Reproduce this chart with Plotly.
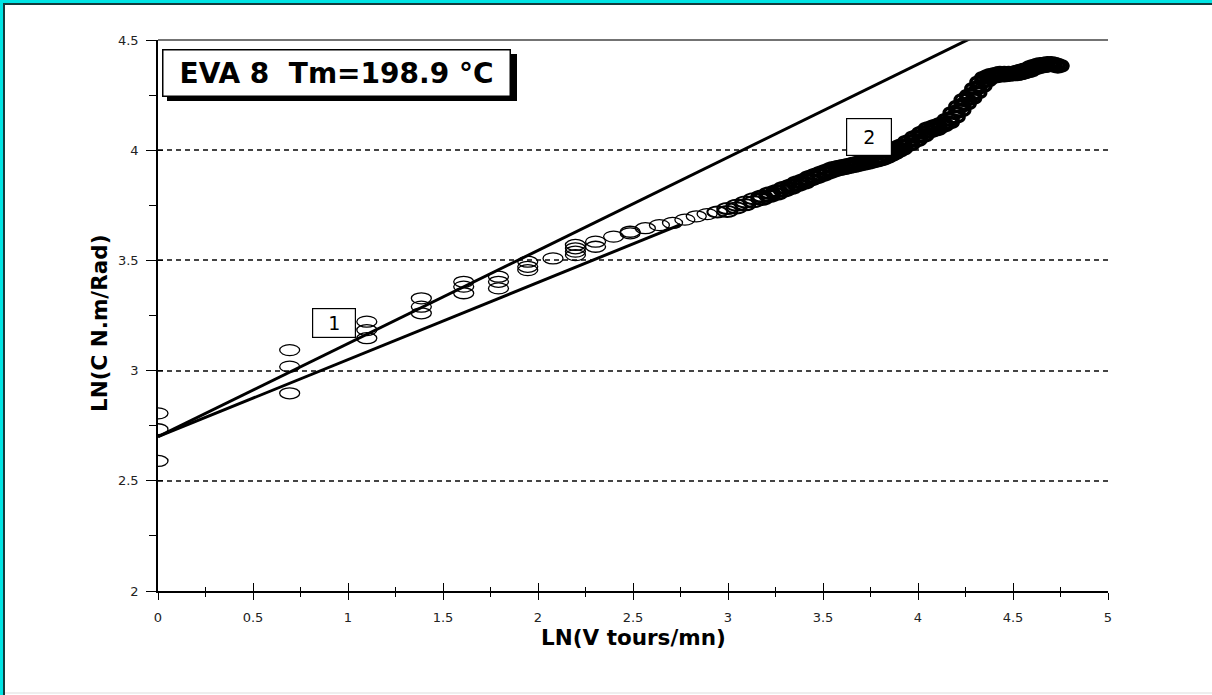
import plotly.graph_objects as go

# ---------------- data ----------------
x_ln_v = [
    0.0, 0.0, 0.0,
    0.693, 0.693, 0.693,
    1.099, 1.099, 1.099,
    1.386, 1.386, 1.386,
    1.609, 1.609, 1.609,
    1.792, 1.792, 1.792,
    1.946, 1.946, 1.946,
    2.079,
    2.197, 2.197, 2.197, 2.197,
    2.303, 2.303,
    2.398,
    2.485, 2.485,
    2.565, 2.639, 2.708, 2.773, 2.833, 2.890, 2.944,
    2.996, 2.996, 3.045, 3.045, 3.091, 3.091, 3.135, 3.135, 3.178, 3.178,
    3.219, 3.219, 3.258, 3.258, 3.296, 3.296, 3.332, 3.332, 3.367, 3.367,
    3.401, 3.401, 3.434, 3.434, 3.466, 3.466, 3.497, 3.497, 3.526, 3.526,
    3.555, 3.555, 3.584, 3.584, 3.611, 3.611, 3.638, 3.638, 3.664, 3.664,
    3.689, 3.689, 3.714, 3.714, 3.738, 3.738, 3.761, 3.761, 3.784, 3.784,
    3.807, 3.807, 3.829, 3.829, 3.850, 3.850, 3.871, 3.871, 3.892, 3.892,
    3.912, 3.912, 3.951, 3.951, 3.989, 3.989, 4.025, 4.025, 4.060, 4.060,
    4.094, 4.094, 4.127, 4.127, 4.159, 4.159, 4.190, 4.190, 4.220, 4.220,
    4.248, 4.248, 4.277, 4.277, 4.304, 4.304, 4.331, 4.331, 4.357, 4.357,
    4.382, 4.382, 4.407, 4.407, 4.431, 4.431, 4.454, 4.454, 4.477, 4.477,
    4.500, 4.500, 4.522, 4.522, 4.543, 4.543, 4.564, 4.564, 4.585, 4.585,
    4.605, 4.605, 4.625, 4.625, 4.644, 4.644, 4.663, 4.663, 4.682, 4.682,
    4.700, 4.700, 4.718, 4.718, 4.736, 4.736,
]
y_ln_c = [
    2.806, 2.734, 2.590,
    3.093, 3.018, 2.897,
    3.222, 3.184, 3.147,
    3.328, 3.290, 3.260,
    3.403, 3.381, 3.351,
    3.426, 3.403, 3.373,
    3.494, 3.471, 3.456,
    3.509,
    3.570, 3.555, 3.540, 3.524,
    3.585, 3.562,
    3.608,
    3.630, 3.623,
    3.646, 3.660, 3.670, 3.685, 3.700, 3.710, 3.720,
    3.735, 3.722, 3.750, 3.738, 3.765, 3.752, 3.780, 3.766, 3.790, 3.778,
    3.805, 3.792, 3.815, 3.802, 3.830, 3.816, 3.840, 3.828, 3.855, 3.842,
    3.865, 3.852, 3.880, 3.866, 3.890, 3.877, 3.900, 3.887, 3.910, 3.897,
    3.920, 3.906, 3.925, 3.913, 3.930, 3.918, 3.935, 3.923, 3.940, 3.928,
    3.945, 3.933, 3.950, 3.938, 3.955, 3.943, 3.960, 3.948, 3.965, 3.953,
    3.970, 3.958, 3.980, 3.966, 3.990, 3.975, 4.000, 3.985, 4.010, 3.995,
    4.020, 4.005, 4.040, 4.025, 4.060, 4.045, 4.080, 4.065, 4.100, 4.085,
    4.110, 4.095, 4.120, 4.110, 4.140, 4.125, 4.170, 4.150, 4.200, 4.180,
    4.230, 4.210, 4.250, 4.235, 4.280, 4.260, 4.310, 4.290, 4.330, 4.315,
    4.340, 4.330, 4.345, 4.335, 4.350, 4.340, 4.350, 4.340, 4.350, 4.342,
    4.350, 4.345, 4.355, 4.345, 4.360, 4.350, 4.365, 4.355, 4.370, 4.360,
    4.380, 4.370, 4.385, 4.375, 4.390, 4.380, 4.390, 4.382, 4.395, 4.385,
    4.395, 4.388, 4.390, 4.385, 4.385, 4.380,
]

fit1_x = [0.0, 4.30]
fit1_y = [2.70, 4.517]
fit2_x = [0.0, 2.75]
fit2_y = [2.70, 3.6625]

label1_pos = (0.926, 3.218)
label2_pos = (3.742, 4.058)

title_text = "EVA 8&nbsp; Tm=198.9 °C"
x_title = "LN(V tours/mn)"
y_title = "LN(C N.m/Rad)"

# ---------------- layout geometry ----------------
W, H = 1212, 695
L, R, T, B = 158, 104, 40, 104
PW, PH = W - L - R, H - T - B


def px(xp):
    return (xp - L) / PW


def py(yp):
    return (H - B - yp) / PH


fig = go.Figure()

# fitted lines
for fx, fy in ((fit1_x, fit1_y), (fit2_x, fit2_y)):
    fig.add_trace(go.Scatter(x=fx, y=fy, mode="lines",
                             line=dict(color="black", width=3),
                             hoverinfo="skip", showlegend=False))

# dummy trace for overlay axes (inner half of tick marks)
fig.add_trace(go.Scatter(x=[None], y=[None], xaxis="x2", yaxis="y2",
                         hoverinfo="skip", showlegend=False))

# measured points: open horizontal ellipses
for xv, yv in zip(x_ln_v, y_ln_c):
    if xv < 2.9:
        lw = 1.3
    elif xv < 3.15:
        lw = 2.0
    elif xv < 3.9:
        lw = 2.8
    else:
        lw = 3.4
    fig.add_shape(type="circle", xref="x", yref="y",
                  xsizemode="pixel", ysizemode="pixel",
                  xanchor=xv, yanchor=yv,
                  x0=-10, x1=10, y0=-5.5, y1=5.5,
                  line=dict(color="black", width=lw),
                  fillcolor="rgba(0,0,0,0)", layer="above")

# top frame line of plot
fig.add_shape(type="line", xref="paper", yref="paper", x0=0, x1=1, y0=1, y1=1,
              line=dict(color="#444444", width=1.5), layer="above")

# page border (cyan + dark)
fig.add_shape(type="rect", xref="paper", yref="paper",
              x0=px(0), x1=px(3), y0=py(H), y1=py(0),
              line=dict(width=0), fillcolor="#00e5e5", layer="above")
fig.add_shape(type="rect", xref="paper", yref="paper",
              x0=px(0), x1=px(W), y0=py(3), y1=py(0),
              line=dict(width=0), fillcolor="#00e5e5", layer="above")
fig.add_shape(type="rect", xref="paper", yref="paper",
              x0=px(3), x1=px(5), y0=py(H), y1=py(3),
              line=dict(width=0), fillcolor="#143c3c", layer="above")
fig.add_shape(type="rect", xref="paper", yref="paper",
              x0=px(3), x1=px(W), y0=py(5), y1=py(3),
              line=dict(width=0), fillcolor="#143c3c", layer="above")
fig.add_shape(type="line", xref="paper", yref="paper",
              x0=px(5), x1=px(W), y0=py(693), y1=py(693),
              line=dict(color="#dddddd", width=1), layer="above")

# title box shadow
fig.add_shape(type="rect", xref="paper", yref="paper",
              x0=px(167), x1=px(517), y0=py(101), y1=py(54),
              line=dict(width=0), fillcolor="black", layer="above")

annotations = [
    dict(text="<b>" + title_text + "</b>", xref="paper", yref="paper",
         x=px(162), y=py(49), xanchor="left", yanchor="top",
         showarrow=False, width=340, height=39, borderpad=3,
         bordercolor="black", borderwidth=1.5, bgcolor="white",
         align="center", valign="middle",
         font=dict(family="DejaVu Sans", size=28, color="black")),
    dict(text="1", xref="x", yref="y", x=label1_pos[0], y=label1_pos[1],
         showarrow=False, width=42, height=28, borderpad=0,
         bordercolor="black", borderwidth=1.2, bgcolor="white",
         font=dict(family="DejaVu Sans", size=19, color="black")),
    dict(text="2", xref="x", yref="y", x=label2_pos[0], y=label2_pos[1],
         showarrow=False, width=44, height=36, borderpad=0,
         bordercolor="black", borderwidth=1.2, bgcolor="white",
         font=dict(family="DejaVu Sans", size=19, color="black")),
    dict(text="<b>" + x_title + "</b>", xref="paper", yref="paper",
         x=px(633), y=py(637), xanchor="center", yanchor="middle",
         showarrow=False,
         font=dict(family="DejaVu Sans", size=21.5, color="black")),
    dict(text="<b>" + y_title + "</b>", xref="paper", yref="paper",
         x=px(99), y=py(324), xanchor="center", yanchor="middle",
         showarrow=False, textangle=-90,
         font=dict(family="DejaVu Sans", size=21.5, color="black")),
]

tickfont = dict(family="DejaVu Sans", size=13, color="#222222")

fig.update_layout(
    width=W, height=H,
    margin=dict(l=L, r=R, t=T, b=B, pad=0),
    paper_bgcolor="white", plot_bgcolor="white",
    showlegend=False,
    annotations=annotations,
    xaxis=dict(range=[0, 5], dtick=0.5, tick0=0, showgrid=False, zeroline=False,
               showline=True, linecolor="black", linewidth=1.5,
               ticks="outside", ticklen=7, tickwidth=1.2, tickcolor="black",
               minor=dict(ticks="outside", ticklen=4, dtick=0.25, tickcolor="black",
                          tickwidth=1.2, showgrid=False),
               tickfont=tickfont, ticklabelstandoff=7, fixedrange=True),
    yaxis=dict(range=[2, 4.5], dtick=0.5, tick0=2, showgrid=True,
               gridcolor="#444444", gridwidth=1.5, griddash="5px,4px",
               zeroline=False,
               showline=True, linecolor="black", linewidth=1.5,
               ticks="outside", ticklen=10, tickwidth=1.2, tickcolor="black",
               minor=dict(ticks="outside", ticklen=7, dtick=0.25, tickcolor="black",
                          tickwidth=1.2, showgrid=False),
               tickfont=tickfont, ticklabelstandoff=5, fixedrange=True),
    xaxis2=dict(range=[0, 5], overlaying="x", anchor="y2", side="bottom",
                dtick=0.5, tick0=0, ticks="inside", ticklen=8, tickwidth=1.2,
                tickcolor="black", showticklabels=False, showgrid=False,
                zeroline=False, showline=False,
                minor=dict(ticks="inside", ticklen=4, dtick=0.25,
                           tickcolor="black", tickwidth=1.2)),
    yaxis2=dict(range=[2, 4.5], overlaying="y", anchor="x2", side="left",
                dtick=0.5, tick0=2, ticks="inside", ticklen=5, tickwidth=1.2,
                tickcolor="black", showticklabels=False, showgrid=False,
                zeroline=False, showline=False),
)

fig.write_html(
    "out.html",
    config={"displayModeBar": False},
    post_script="document.body.style.margin='0px';document.body.style.overflow='hidden';",
)
